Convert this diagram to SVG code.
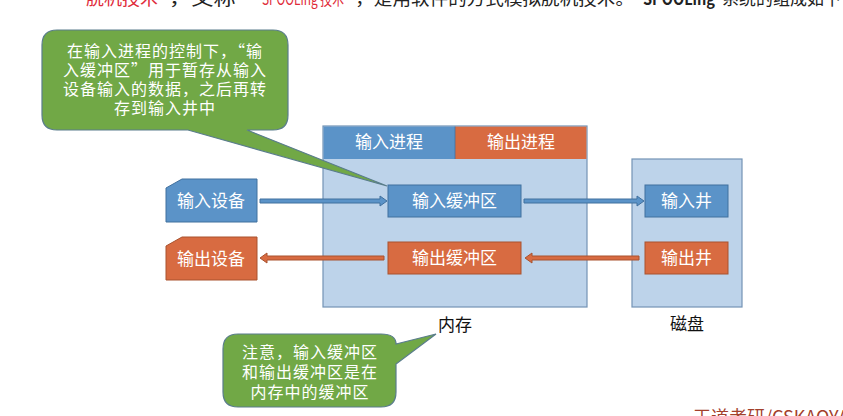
<svg xmlns="http://www.w3.org/2000/svg" width="843" height="416" viewBox="0 0 843 416">
  <style>
    .cjk { font-family: "Noto Sans CJK SC", "Noto Sans", sans-serif; }
    .wt { fill: #ffffff; font-size: 17px; text-anchor: middle; }
    .nt { fill: #ffffff; font-size: 16px; text-anchor: middle; letter-spacing: 1px; }
    .lbl { fill: #111111; font-size: 17px; text-anchor: middle; }
    .top { font-size: 17px; fill: #222222; }
    .red { fill: #e02b3a; }
    .blue { fill: #5b93c8; stroke: #41709e; stroke-width: 1; }
    .orange { fill: #d86b41; stroke: #a9532f; stroke-width: 1; }
    .pane { fill: #bdd3ea; stroke: #7393b5; stroke-width: 1.2; }
    .note { fill: #71a846; stroke: #5a7d8c; stroke-width: 1.2; }
    .head { stroke: none; }
  </style>

  <!-- header line (continued from above) -->
  <g id="header-line">
    <text class="cjk top red" x="86" y="5" textLength="72" lengthAdjust="spacingAndGlyphs">脱机技术</text>
    <text class="cjk top" x="158" y="5" textLength="100" lengthAdjust="spacingAndGlyphs">”，又称“</text>
    <text class="cjk top red" x="262" y="5" textLength="82" lengthAdjust="spacingAndGlyphs">SPOOLing 技术</text>
    <text class="cjk top" x="346" y="5" textLength="288" lengthAdjust="spacingAndGlyphs">”，是用软件的方式模拟脱机技术。</text>
    <text class="cjk top" x="643" y="5" font-weight="bold" textLength="72" lengthAdjust="spacingAndGlyphs">SPOOLing</text>
    <text class="cjk top" x="722" y="5" textLength="136" lengthAdjust="spacingAndGlyphs">系统的组成如下：</text>
  </g>

  <!-- main memory -->
  <g id="memory">
    <rect class="pane" x="323" y="126" width="264" height="181"/>
    <rect class="blue head" x="323.6" y="126.6" width="131.4" height="32.4"/>
    <rect class="orange head" x="455" y="126.6" width="131.4" height="32.4"/>
    <line x1="455" y1="126.6" x2="455" y2="159" stroke="#41709e" stroke-width="0.8"/>
    <text class="cjk wt" x="389" y="148">输入进程</text>
    <text class="cjk wt" x="521" y="148">输出进程</text>
    <text class="cjk lbl" x="455" y="331">内存</text>
  </g>

  <!-- disk -->
  <g id="disk">
    <rect class="pane" x="632" y="159" width="110" height="148"/>
    <text class="cjk lbl" x="687" y="330">磁盘</text>
  </g>

  <g id="input-device">
    <polygon class="blue" points="166,188 182,179 257,179 257,222 166,222"/>
    <text class="cjk wt" x="211" y="207">输入设备</text>
  </g>
  <g id="output-device">
    <polygon class="orange" points="166,246 182,237 257,237 257,280 166,280"/>
    <text class="cjk wt" x="211" y="265">输出设备</text>
  </g>

  <g id="input-buffer">
    <rect class="blue" x="388" y="185" width="133" height="32"/>
    <text class="cjk wt" x="454.5" y="207">输入缓冲区</text>
  </g>
  <g id="output-buffer">
    <rect class="orange" x="388" y="242" width="133" height="32"/>
    <text class="cjk wt" x="454.5" y="264">输出缓冲区</text>
  </g>

  <g id="input-well">
    <rect class="blue" x="645" y="185" width="83" height="32"/>
    <text class="cjk wt" x="686.5" y="207">输入井</text>
  </g>
  <g id="output-well">
    <rect class="orange" x="645" y="242" width="83" height="32"/>
    <text class="cjk wt" x="686.5" y="264">输出井</text>
  </g>

  <!-- connectors: thin block arrows -->
  <g id="connectors" stroke-width="0.8">
    <polygon class="blue" points="260,199 380,199 380,196 387,201 380,206 380,203 260,203"/>
    <polygon class="blue" points="524,199 637,199 637,196 644,201 637,206 637,203 524,203"/>
    <polygon class="orange" points="639,256 532,256 532,253 525,258 532,263 532,260 639,260"/>
    <polygon class="orange" points="384,256 267,256 267,253 260,258 267,263 267,260 384,260"/>
  </g>

  <!-- callouts -->
  <g id="note-input-buffer">
    <path class="note" d="M57,30 H273 Q288,30 288,45 V115 Q288,130 273,130 H247 L387,186 L188,130 H57 Q42,130 42,115 V45 Q42,30 57,30 Z"/>
    <text class="cjk nt" x="165" y="57">在输入进程的控制下，“输</text>
    <text class="cjk nt" x="165" y="76">入缓冲区”用于暂存从输入</text>
    <text class="cjk nt" x="165" y="95">设备输入的数据，之后再转</text>
    <text class="cjk nt" x="165" y="114">存到输入井中</text>
  </g>
  <g id="note-buffers">
    <path class="note" d="M238,334 H381 Q396,334 396,344 L436,334 L396,364 V392 Q396,407 381,407 H238 Q223,407 223,392 V349 Q223,334 238,334 Z"/>
    <text class="cjk nt" x="310" y="358">注意，输入缓冲区</text>
    <text class="cjk nt" x="310" y="378">和输出缓冲区是在</text>
    <text class="cjk nt" x="310" y="398">内存中的缓冲区</text>
  </g>

  <!-- watermark -->
  <text class="cjk" x="693" y="424" font-size="18" fill="#a3402c">王道考研/CSKAOYAN</text>
</svg>
